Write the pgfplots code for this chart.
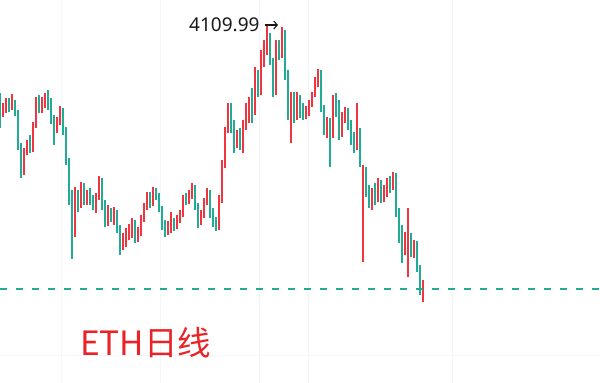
\documentclass[border=0pt]{standalone}
\usepackage{pgfplots}
\pgfplotsset{compat=1.18}
\usepackage{pgfplotstable}
\usetikzlibrary{arrows.meta}
\usepackage{fontspec}
\setmainfont{Noto Sans}
\newfontfamily\cjk{Noto Sans CJK SC}

\definecolor{candleup}{RGB}{240,52,64}
\definecolor{candledn}{RGB}{34,171,148}
\definecolor{gridc}{RGB}{244,246,251}
\definecolor{labelred}{RGB}{232,36,40}

% daily candles, rising days (close above open)
\pgfplotstableread{
i o h l c
1 3345 3447 3328 3387.5
2 3387.5 3489.5 3362 3472.5
4 3413 3523.5 3387.5 3455.5
8 2877.5 3064.5 2835 3030.5
9 3030.5 3132.5 3005 3107
11 3047.5 3285.5 3030.5 3260
12 3260 3498 3234.5 3472.5
14 3387.5 3498 3362 3472.5
15 3472.5 3532 3404.5 3506.5
19 3217.5 3328 3192 3302.5
20 3302.5 3421.5 3260 3387.5
25 2410 2733 2308 2690.5
27 2580 2775.5 2554.5 2750
29 2622.5 2707.5 2580 2682
32 2580 2682 2512 2656.5
33 2656.5 2826.5 2622.5 2792.5
36 2435.5 2580 2401.5 2520.5
38 2469.5 2563 2410 2520.5
41 2240 2342 2197.5 2299.5
42 2299.5 2384.5 2223 2350.5
43 2350.5 2418.5 2282.5 2384.5
44 2384.5 2469.5 2299.5 2435.5
46 2299.5 2393 2265.5 2350.5
47 2350.5 2495 2316.5 2452.5
48 2452.5 2597 2435.5 2571.5
49 2571.5 2690.5 2537.5 2639.5
51 2597 2733 2571.5 2690.5
56 2367.5 2444 2325 2410
57 2410 2520.5 2342 2435.5
59 2393 2495 2376 2452.5
60 2452.5 2537.5 2427 2503.5
61 2503.5 2665 2478 2639.5
63 2605.5 2707.5 2588.5 2673.5
64 2673.5 2767 2631 2741.5
67 2452.5 2537.5 2410 2495
68 2495 2639.5 2469.5 2622.5
69 2622.5 2724.5 2580 2690.5
73 2401.5 2665 2367.5 2622.5
74 2622.5 2962.5 2597 2920
75 2920 3243 2894.5 3217.5
76 3217.5 3447 3192 3404.5
79 3090 3217.5 3064.5 3175
81 3073 3302.5 3022 3260
82 3260 3447 3217.5 3387.5
83 3387.5 3498 3277 3472.5
85 3370.5 3753 3345 3685
87 3540.5 3897.5 3515 3829.5
88 3829.5 3982.5 3753 3940
89 3940 4109.99 3855 4025
92 3540.5 3982.5 3515 3914.5
94 3855 4093 3829.5 4025
97 3345 3540.5 3107 3498
99 3319.5 3540.5 3302.5 3498
102 3328 3421.5 3311 3387.5
103 3387.5 3472.5 3336.5 3447
104 3447 3540.5 3413 3515
105 3515 3668 3498 3642.5
106 3642.5 3736 3583 3685
109 3217.5 3328 3149.5 3285.5
111 3175 3515 3149.5 3472.5
114 3217.5 3370.5 3158 3345
115 3345 3413 3277 3387.5
119 3073 3447 3047.5 3192
121 2648 2920 2095.5 2877.5
124 2597 2724.5 2537.5 2690.5
126 2639.5 2809.5 2605.5 2775.5
128 2648 2750 2605.5 2690.5
129 2690.5 2809.5 2648 2775.5
131 2750 2860.5 2707.5 2826.5
135 2197.5 2350.5 2155 2282.5
136 2240 2554.5 1968 2325
138 2197.5 2282.5 2129.5 2257
141 1840.5 1942.5 1755.5 1908.5
}\upcandles

% daily candles, falling days (close below open)
\pgfplotstableread{
i o h l c
0 3515 3532 3234.5 3345
3 3472.5 3489.5 3370.5 3413
5 3455.5 3472.5 3336.5 3370.5
6 3370.5 3387.5 3047.5 3090
7 3090 3107 2809.5 2877.5
10 3107 3175 3022 3047.5
13 3472.5 3515 3362 3387.5
16 3506.5 3557.5 3387.5 3430
17 3430 3489.5 3268.5 3302.5
18 3302.5 3345 3090 3217.5
21 3387.5 3404.5 3175 3217.5
22 3217.5 3243 2920 2962.5
23 2962.5 2979.5 2580 2622.5
24 2622.5 2707.5 2121 2410
26 2690.5 2707.5 2520.5 2580
28 2750 2767 2580 2622.5
30 2682 2724.5 2580 2622.5
31 2622.5 2665 2537.5 2580
34 2792.5 2809.5 2537.5 2580
35 2580 2622.5 2393 2435.5
37 2520.5 2554.5 2435.5 2469.5
39 2520.5 2537.5 2342 2384.5
40 2384.5 2410 2155 2240
45 2435.5 2452.5 2257 2299.5
50 2639.5 2690.5 2554.5 2597
52 2690.5 2724.5 2622.5 2656.5
53 2656.5 2682 2520.5 2554.5
54 2554.5 2571.5 2367.5 2410
55 2410 2452.5 2308 2367.5
58 2435.5 2469.5 2359 2393
62 2639.5 2682 2580 2605.5
65 2741.5 2750 2537.5 2580
66 2580 2597 2384.5 2452.5
70 2690.5 2707.5 2469.5 2520.5
71 2520.5 2554.5 2393 2435.5
72 2435.5 2478 2359 2401.5
77 3404.5 3447 3192 3234.5
78 3234.5 3302.5 3022 3090
80 3175 3234.5 3047.5 3073
84 3472.5 3574.5 3277 3370.5
86 3685 3727.5 3498 3540.5
90 4025 4042 3770 3812.5
91 3812.5 3829.5 3498 3540.5
93 3914.5 3982.5 3812.5 3855
95 4025 4067.5 3642.5 3685
96 3685 3727.5 3302.5 3345
98 3498 3540.5 3277 3319.5
100 3498 3515 3319.5 3370.5
101 3370.5 3447 3302.5 3328
107 3685 3727.5 3370.5 3404.5
108 3404.5 3430 3175 3217.5
110 3285.5 3319.5 2903 3175
112 3472.5 3532 3328 3387.5
113 3387.5 3472.5 3132.5 3217.5
116 3387.5 3404.5 3217.5 3260
117 3260 3302.5 3090 3132.5
118 3132.5 3200.5 3022 3073
120 3192 3234.5 2903 2962.5
122 2877.5 2903 2648 2707.5
123 2707.5 2750 2554.5 2597
125 2690.5 2767 2580 2639.5
127 2775.5 2792.5 2597 2648
130 2775.5 2826.5 2682 2750
132 2826.5 2852 2478 2520.5
133 2520.5 2554.5 2257 2325
134 2325 2410 2087 2197.5
137 2325 2342 2138 2197.5
139 2257 2274 2010.5 2044.5
140 2044.5 2070 1815 1857.5
}\dncandles

\begin{document}
\begin{tikzpicture}
\fill[white] (0,0) rectangle (600pt,383pt);
\useasboundingbox (0,0) rectangle (600pt,383pt);
\begin{axis}[
  at={(0,0)}, anchor=south west,
  width=600pt, height=383pt, scale only axis,
  xmin=0, xmax=200, ymin=1067, ymax=4322.5,
  axis line style={draw=none},
  tick style={draw=none},
  xtick={20.33,53.33,86.33,102.67,150.67},
  ytick={1305},
  xticklabels={}, yticklabels={},
  grid=major,
  major grid style={draw=gridc, line width=0.8pt},
]
% wicks
\addplot[draw=none, mark=none, forget plot,
  error bars/.cd, y dir=plus, y explicit, error mark=none,
  error bar style={draw=candleup, line width=1.2pt}]
  table[x=i, y=l, y error expr=\thisrow{h}-\thisrow{l}] {\upcandles};
\addplot[draw=none, mark=none, forget plot,
  error bars/.cd, y dir=plus, y explicit, error mark=none,
  error bar style={draw=candledn, line width=1.2pt}]
  table[x=i, y=l, y error expr=\thisrow{h}-\thisrow{l}] {\dncandles};
% bodies
\addplot[draw=none, mark=none, forget plot,
  error bars/.cd, y dir=plus, y explicit, error mark=none,
  error bar style={draw=candleup, line width=2.7pt}]
  table[x=i, y=o, y error expr=\thisrow{c}-\thisrow{o}] {\upcandles};
\addplot[draw=none, mark=none, forget plot,
  error bars/.cd, y dir=plus, y explicit, error mark=none,
  error bar style={draw=candledn, line width=2.7pt}]
  table[x=i, y=c, y error expr=\thisrow{o}-\thisrow{c}] {\dncandles};
% current price level
\addplot[candledn, line width=1.5pt, dash pattern=on 7pt off 9pt, forget plot]
  coordinates {(0,1866) (200,1866)};

\node[anchor=base west, inner sep=0pt, text=black!90,
  font=\fontsize{19}{19}\selectfont] at (rel axis cs:0.315,0.919) {4109.99};
\draw[black!90, line width=1.1pt, -{Straight Barb[length=3.5pt,width=8pt]}]
  (rel axis cs:0.4417,0.9347) -- (rel axis cs:0.4633,0.9347);
\node[anchor=base west, inner sep=0pt, text=labelred,
  font=\cjk\fontsize{33.5}{33.5}\selectfont] at (rel axis cs:0.1333,0.0731) {ETH日线};
\end{axis}
\end{tikzpicture}
\end{document}
